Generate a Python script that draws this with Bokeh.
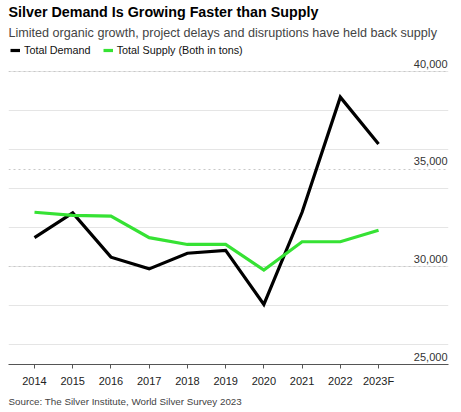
from bokeh.plotting import figure
from bokeh.models import (ColumnDataSource, Title, Legend, LegendItem, Grid,
                          FixedTicker, Range1d)
from bokeh.core.properties import value
from bokeh.embed import file_html
from bokeh.resources import INLINE

years = ["2014", "2015", "2016", "2017", "2018", "2019", "2020", "2021", "2022", "2023F"]
demand = [31500, 32770, 30500, 29900, 30700, 30850, 28080, 32800, 38700, 36300]
supply = [32800, 32640, 32600, 31500, 31150, 31150, 29840, 31290, 31290, 31880]
y_ticks = [25000, 30000, 35000, 40000]
y_tick_labels = ["25,000", "30,000", "35,000", "40,000"]

FONT = "Liberation Sans"
idx = list(range(len(years)))
src = ColumnDataSource(dict(x=idx, year=years, demand=demand, supply=supply))

X0, X1 = -0.68, 10.83
p = figure(width=455, height=410, output_backend="svg", toolbar_location=None,
           x_range=Range1d(X0, X1), y_range=Range1d(25000, 41550),
           y_axis_location=None, min_border_left=8, min_border_right=7,
           min_border_top=0, min_border_bottom=0, title=None)
p.outline_line_color = None
p.xgrid.visible = False

grid = Grid(dimension=1, ticker=FixedTicker(ticks=y_ticks[1:]),
            grid_line_color="#c8c8c8", grid_line_dash="2 3", grid_line_width=1)
p.add_layout(grid)

r_d = p.line("x", "demand", source=src, line_color="#000000", line_width=3.2,
             line_join="miter")
r_s = p.line("x", "supply", source=src, line_color="#36e234", line_width=3.2,
             line_join="miter")

# y tick labels drawn inside the plot, above gridlines
lab_src = ColumnDataSource(dict(x=[X1] * len(y_ticks), y=y_ticks, t=y_tick_labels))
p.text("x", "y", text="t", source=lab_src, text_align="right", text_baseline="bottom",
       x_offset=-1, y_offset=-4, text_font=value(FONT), text_font_size="11px",
       text_color="#333333")

ax = p.xaxis[0]
ax.ticker = FixedTicker(ticks=idx)
ax.major_label_overrides = {i: y for i, y in zip(idx, years)}
ax.axis_line_color = "#555555"
ax.axis_line_width = 1
ax.major_tick_line_color = "#555555"
ax.major_tick_in = 0
ax.major_tick_out = 4
ax.minor_tick_line_color = None
ax.major_label_text_font = FONT
ax.major_label_text_font_size = "11px"
ax.major_label_text_color = "#222222"
ax.major_label_standoff = 6

src_title = Title(text="Source: The Silver Institute, World Silver Survey 2023",
                  text_font=FONT, text_font_size="9.8px", text_font_style="normal",
                  text_color="#444444", align="left", standoff=8)
p.add_layout(src_title, "below")

legend = Legend(items=[LegendItem(label="Total Demand", renderers=[r_d]),
                       LegendItem(label="Total Supply (Both in tons)", renderers=[r_s])],
                orientation="horizontal", location="top_left",
                label_text_font=FONT, label_text_font_size="10.8px",
                label_text_color="#111111", glyph_width=10, glyph_height=12,
                label_standoff=4, spacing=12, padding=0, margin=2,
                border_line_color=None, background_fill_alpha=0,
                label_height=14)
p.add_layout(legend)

sub = Title(text="Limited organic growth, project delays and disruptions have held back supply",
            text_font=FONT, text_font_size="12.6px", text_font_style="normal",
            text_color="#444444", align="left", standoff=4)
p.add_layout(sub, "above")
ttl = Title(text="Silver Demand Is Growing Faster than Supply",
            text_font=FONT, text_font_size="14.3px", text_font_style="bold",
            text_color="#000000", align="left", standoff=3)
p.add_layout(ttl, "above")

open("out.html", "w").write(file_html(p, INLINE))
